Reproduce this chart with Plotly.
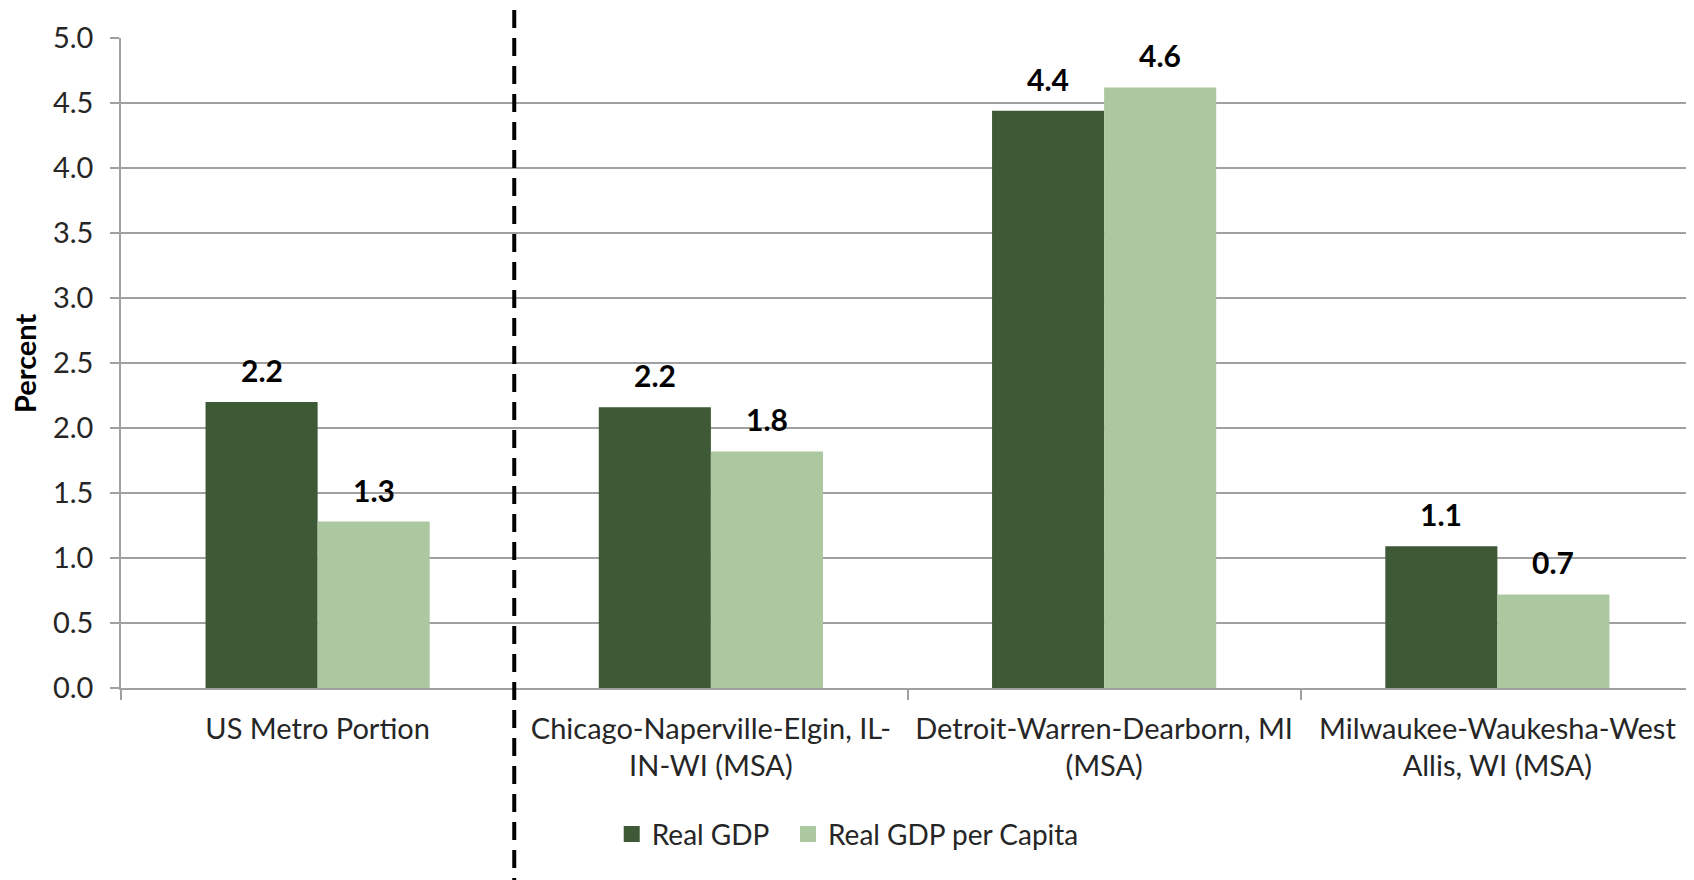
import plotly.graph_objects as go

categories = [
    "US Metro Portion",
    "Chicago-Naperville-Elgin, IL-<br>IN-WI (MSA)",
    "Detroit-Warren-Dearborn, MI<br>(MSA)",
    "Milwaukee-Waukesha-West<br>Allis, WI (MSA)",
]
real_gdp = [2.2, 2.16, 4.44, 1.09]
real_gdp_per_capita = [1.28, 1.82, 4.62, 0.72]
series_names = ["Real GDP", "Real GDP per Capita"]
y_ticks = [0.0, 0.5, 1.0, 1.5, 2.0, 2.5, 3.0, 3.5, 4.0, 4.5, 5.0]

DARK = "#3E5935"
LIGHT = "#ABC8A1"
FONT = "Lato, 'Open Sans', sans-serif"
TXT = "#262626"

W, H = 1686, 872
ML, MT, MB = 113, 30, 192
plot_w = W - ML
plot_h = H - MT - MB

fig = go.Figure()
for vals, name, col in ((real_gdp, series_names[0], DARK),
                        (real_gdp_per_capita, series_names[1], LIGHT)):
    fig.add_trace(go.Bar(x=categories, y=vals, name=name, legendgroup=name,
                         showlegend=False, marker=dict(color=col, line=dict(width=0))))
# legend entries with larger square swatches
legend_labels = [series_names[0] + "\u00a0\u00a0", series_names[1]]
for name, label, col in ((series_names[0], legend_labels[0], DARK),
                         (series_names[1], legend_labels[1], LIGHT)):
    fig.add_trace(go.Scatter(x=[None], y=[None], mode="markers", name=label,
                             legendgroup=name,
                             marker=dict(symbol="square", size=16, color=col,
                                         line=dict(width=0))))

# data labels above bars
for vals, shift in ((real_gdp, -56), (real_gdp_per_capita, 56)):
    for c, v in zip(categories, vals):
        fig.add_annotation(x=c, y=v, text=f"<b>{v:.1f}</b>", showarrow=False,
                           xshift=shift, yshift=32, yanchor="middle",
                           font=dict(family=FONT, size=30, color="#000000"))

# y axis title
fig.add_annotation(xref="paper", yref="paper", x=-97 / plot_w, y=0.5,
                   text="<b>Percent</b>", textangle=-90, showarrow=False,
                   xanchor="center", yanchor="middle",
                   font=dict(family=FONT, size=29, color="#000000"))

# dashed separator line
fig.add_shape(type="line", xref="x", yref="paper", x0=0.5, x1=0.5,
              y0=-0.32, y1=1 + 29 / plot_h,
              line=dict(color="black", width=4, dash="18px,10px"))

fig.update_layout(
    width=W, height=H,
    margin=dict(l=ML, r=0, t=MT, b=MB, autoexpand=False),
    paper_bgcolor="white", plot_bgcolor="white",
    barmode="group", bargap=0.43, bargroupgap=0,
    font=dict(family=FONT, size=29, color=TXT),
    showlegend=True,
    legend=dict(orientation="h", x=0.462, xanchor="center", y=-0.225, yanchor="middle",
                font=dict(family=FONT, size=28, color=TXT), itemwidth=30,
                traceorder="normal", itemsizing="trace"),
)
fig.update_xaxes(
    showline=True, linecolor="#A0A0A0", linewidth=1.5,
    ticks="outside", tickson="boundaries", ticklen=10, tickcolor="#A0A0A0", tickwidth=1.5,
    tickfont=dict(family=FONT, size=29, color=TXT), ticklabelstandoff=14,
    showgrid=False, automargin=False,
)
fig.update_yaxes(
    range=[0, 5.0], tickvals=y_ticks, ticktext=[f"{t:.1f}" for t in y_ticks],
    showline=True, linecolor="#A0A0A0", linewidth=1.5,
    ticks="outside", ticklen=9, tickcolor="#A0A0A0", tickwidth=1.5,
    showgrid=True, gridcolor="#A0A0A0", gridwidth=1.5,
    tickfont=dict(family=FONT, size=29, color=TXT), ticklabelstandoff=11,
    zeroline=False, automargin=False,
)
fig.write_html("out.html")
